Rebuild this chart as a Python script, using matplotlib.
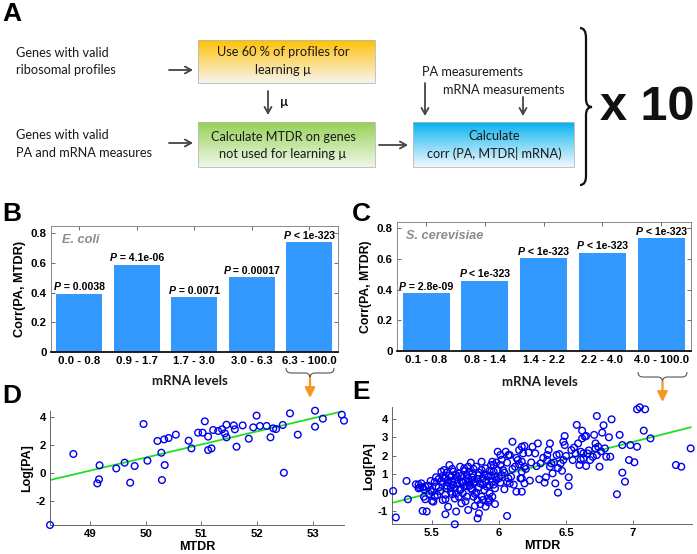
import numpy as np
import matplotlib
matplotlib.use("Agg")
import matplotlib.pyplot as plt
from matplotlib.path import Path
from matplotlib.patches import PathPatch, Rectangle
from matplotlib.offsetbox import TextArea, HPacker, AnnotationBbox

# ---------------- data ----------------
ecoli_bins = ["0.0 - 0.8", "0.9 - 1.7", "1.7 - 3.0", "3.0 - 6.3", "6.3 - 100.0"]
ecoli_corr = [0.39, 0.586, 0.368, 0.503, 0.739]
ecoli_p = [" = 0.0038", " = 4.1e-06", " = 0.0071", " = 0.00017", " < 1e-323"]

yeast_bins = ["0.1 - 0.8", "0.8 - 1.4", "1.4 - 2.2", "2.2 - 4.0", "4.0 - 100.0"]
yeast_corr = [0.376, 0.458, 0.604, 0.641, 0.735]
yeast_p = [" = 2.8e-09", " < 1e-323", " < 1e-323", " < 1e-323", " < 1e-323"]

d_mtdr = [48.28, 48.70, 49.13, 49.16, 49.17, 49.47, 49.62, 49.72, 49.80, 49.96,
          50.03, 50.21, 50.28, 50.29, 50.33, 50.34, 50.41, 50.54, 50.77, 50.82,
          50.94, 51.02, 51.06, 51.12, 51.12, 51.18, 51.21, 51.30, 51.37, 51.42,
          51.45, 51.45, 51.58, 51.60, 51.63, 51.74, 51.85, 51.93, 51.99, 52.05,
          52.17, 52.24, 52.29, 52.34, 52.46, 52.48, 52.59, 52.73, 53.04, 53.04,
          53.18, 53.52, 53.56]
d_logpa = [-3.71, 1.36, -0.74, -0.45, 0.55, 0.33, 0.74, -0.69, 0.50, 3.50,
           0.88, 2.29, 1.45, -0.50, 2.40, 0.57, 2.50, 2.74, 2.31, 1.76,
           2.88, 2.88, 3.69, 2.60, 1.64, 1.76, 3.07, 3.00, 3.12, 2.83,
           3.45, 2.55, 3.40, 3.12, 1.88, 3.40, 2.45, 3.26, 4.10, 3.36,
           3.36, 2.55, 3.19, 3.14, 3.43, 0.02, 4.26, 2.74, 4.45, 3.31,
           3.88, 4.17, 3.74]
d_fit_x = [48.28, 53.56]
d_fit_y = [-0.50, 4.43]

e_mtdr = [5.21, 5.23, 5.31, 5.32, 5.38, 5.42, 5.43, 5.45, 5.44, 5.45, 5.43, 5.46,
          5.49, 5.49, 5.50, 5.52, 5.51, 5.55, 5.57, 5.58, 5.58, 5.60, 5.60, 5.60,
          5.62, 5.63, 5.62, 5.65, 5.64, 5.65, 5.66, 5.67, 5.67, 5.67, 5.68, 5.68,
          5.70, 5.72, 5.72, 5.72, 5.73, 5.74, 5.74, 5.75, 5.76, 5.77, 5.77, 5.78,
          5.78, 5.79, 5.80, 5.80, 5.81, 5.82, 5.83, 5.84, 5.84, 5.85, 5.85, 5.86,
          5.87, 5.87, 5.88, 5.89, 5.90, 5.90, 5.91, 5.92, 5.93, 5.93, 5.94, 5.95,
          5.95, 5.96, 5.97, 5.98, 5.99, 6.01, 6.01, 6.02, 6.03, 6.04, 6.05, 6.06,
          6.06, 6.07, 6.07, 6.08, 6.09, 6.10, 6.12, 6.13, 6.14, 6.15, 6.16, 6.17,
          6.18,
          5.57, 5.59, 5.61, 5.64, 5.69, 5.71, 5.76, 5.78, 5.81, 5.82, 5.88, 5.92,
          5.95, 5.97, 5.99, 6.01, 5.71, 5.83, 5.87, 5.91, 5.54, 5.48, 5.40, 5.53,
          5.61, 5.68, 5.80, 5.85, 5.93, 5.96,
          6.19, 6.17, 6.19, 6.17, 6.17, 6.19, 6.17, 6.23, 6.22, 6.25, 6.27, 6.29,
          6.31, 6.30, 6.34, 6.36, 6.37, 6.38, 6.36, 6.38, 6.39, 6.40, 6.42, 6.43,
          6.44, 6.45, 6.46, 6.47, 6.48, 6.48, 6.49, 6.49, 6.52, 6.52, 6.54, 6.55,
          6.57, 6.58, 6.59, 6.60, 6.61, 6.62, 6.62, 6.63, 6.64, 6.65, 6.63, 6.65,
          6.66, 6.68, 6.71, 6.72, 6.72, 6.73, 6.74, 6.73, 6.75, 6.77, 6.78, 6.79,
          6.80, 6.82, 6.83, 6.84, 6.88, 6.90, 6.92, 6.92, 6.94, 6.97, 6.98, 7.01,
          7.03, 7.03, 7.05, 7.09, 7.08, 7.13, 7.32, 7.36, 7.43,
          5.40, 5.41, 5.44, 5.47, 5.50, 5.52, 5.53, 5.55, 5.56, 5.58, 5.59, 5.60,
          5.61, 5.62, 5.63, 5.64, 5.65, 5.66, 5.67, 5.69, 5.70, 5.71, 5.73, 5.74,
          5.75, 5.76, 5.77, 5.79, 5.80, 5.81, 5.82, 5.84, 5.85, 5.86, 5.88, 5.89,
          5.90, 5.92, 5.93, 5.94, 5.96, 5.97, 5.98, 6.00, 6.02, 6.04, 6.06, 6.08,
          6.10, 6.11, 6.13, 6.15, 6.20, 6.24, 6.28, 6.33, 6.35, 6.41, 6.44, 6.50,
          6.56, 6.61, 6.67, 6.70, 6.76]
e_logpa = [0.11, -1.32, 0.65, -0.34, 0.47, 0.52, 0.31, 0.34, -0.20, -0.34, -0.97, -1.00,
           0.16, 0.65, -0.43, -0.20, -0.47, 0.31, 0.65, 0.92, -0.38, -0.34, -1.15, 0.79,
           -0.74, 1.51, 0.56, 0.61, 0.07, -0.07, 1.15, 0.70, 0.25, -1.69, 0.97, -1.00,
           -0.20, 0.61, -0.56, 0.92, -0.02, 0.34, 1.33, 0.70, -0.20, -0.92, 1.42, 1.15,
           0.38, 1.64, 0.16, 0.85, 1.30, 0.61, 0.02, -1.37, -0.38, 0.97, -1.10, 0.52,
           1.24, -0.20, 0.79, 0.16, 1.33, -0.74, 0.34, 0.88, -0.02, -0.38, 1.51, 0.61,
           1.69, 1.15, 0.25, 0.70, 2.23, 1.51, 2.05, 0.97, 1.24, 0.20, 2.23, -1.24,
           1.64, 0.79, 2.05, 0.52, 0.88, 2.77, 1.42, 0.07, 1.78, 2.32, 0.79, 2.50,
           2.14,
           1.15, 1.24, 1.10, 0.88, 0.52, 0.20, 0.97, 0.61, -0.20, -0.70, -0.38, -0.29,
           -0.20, 0.88, 1.24, 0.56, 1.42, 1.42, 1.69, 0.97, -0.11, -0.05, 0.25, 0.85,
           0.25, -0.02, 0.70, 0.31, 0.43, 1.51,
           2.54, 1.69, 1.42, 1.15, 0.79, 0.52, 0.07, 0.67, 2.18, 2.50, 2.14, 2.68,
           1.60, 0.74, 0.56, 2.05, 2.32, 2.68, 1.78, 1.42, 1.60, 1.06, 0.52, 2.05,
           0.02, 2.10, 1.60, 1.20, 1.78, 2.77, 3.08, 2.59, 0.85, 0.38, 2.32, 1.78,
           2.14, 3.68, 2.68, 1.51, 2.23, 3.37, 2.95, 1.87, 3.05, 3.08, 2.14, 1.46,
           2.14, 1.78, 3.14, 2.68, 2.41, 2.05, 2.50, 4.16, 1.42, 3.26, 3.66, 2.41,
           1.96, 3.01, 1.96, 3.98, -0.07, 3.14, 2.59, 1.10, 0.61, 1.78, 2.59, 1.66,
           2.50, 4.52, 4.63, 4.52, 3.37, 2.95, 1.51, 1.42, 2.41,
           0.45, 0.30, 0.20, 0.40, 0.05, 0.60, 0.35, 0.75, 0.10, 0.55, 0.80, -0.10,
           0.40, 0.70, 0.95, 0.30, 1.30, 0.45, -0.30, 0.85, 1.05, 0.15, 0.55, 1.20,
           -0.45, 0.40, 0.80, 0.25, 1.05, 0.55, -0.05, 0.75, 1.10, -0.60, 0.45, 1.00,
           0.60, -0.50, 1.20, 0.95, 0.45, -0.60, 1.65, 0.80, 1.80, 1.10, 0.60, 2.05,
           1.30, 0.45, 1.90, 1.55, 1.30, 1.65, 1.45, 1.90, 0.85, 1.65, 1.35, 2.00,
           2.45, 1.80, 2.30, 1.95, 2.25]
e_fit_x = [5.21, 7.43]
e_fit_y = [-0.52, 3.55]

# ---------------- figure ----------------
W, H = 697, 554
fig = plt.figure(figsize=(W / 100, H / 100), dpi=100)


def px(l, t, r, b):
    return [l / W, 1 - b / H, (r - l) / W, (b - t) / H]


ARIAL = ["Liberation Sans", "DejaVu Sans"]
CAL = ["Lato", "DejaVu Sans"]
BAR = "#3399ff"


def plabel(ax, x, y, rest, size=7.6):
    t1 = TextArea("P", textprops=dict(style="italic", weight="bold", size=size, family=ARIAL))
    t2 = TextArea(rest, textprops=dict(weight="bold", size=size, family=ARIAL))
    box = HPacker(children=[t1, t2], align="baseline", pad=0, sep=0)
    ab = AnnotationBbox(box, (x, y), xybox=(0, 1.2), xycoords="data",
                        boxcoords="offset points", box_alignment=(0.5, 0),
                        frameon=False, pad=0)
    ax.add_artist(ab)


def bar_panel(rect, bins, vals, plabs, ylim_top, species, ylab_size, sx):
    ax = fig.add_axes(rect)
    x = np.arange(len(bins))
    ax.bar(x, vals, width=0.8, color=BAR, edgecolor="none", zorder=2)
    ax.set_xlim(-0.5, len(bins) - 0.5)
    ax.set_ylim(0, ylim_top)
    ax.set_xticks(x)
    ax.set_xticklabels(bins)
    ax.set_yticks([0, 0.2, 0.4, 0.6, 0.8])
    ax.set_yticklabels(["0", "0.2", "0.4", "0.6", "0.8"])
    ax.tick_params(direction="in", top=True, right=True, length=3, width=0.6,
                   color="#555555", labelsize=8.2, pad=3)
    for lab in ax.get_xticklabels() + ax.get_yticklabels():
        lab.set_fontweight("bold")
        lab.set_family(ARIAL)
    for s in ["top", "right", "left"]:
        ax.spines[s].set_color("#777777")
        ax.spines[s].set_linewidth(0.6)
    ax.spines["bottom"].set_color("#111111")
    ax.spines["bottom"].set_linewidth(1.3)
    ax.spines["bottom"].set_zorder(3)
    ax.set_ylabel("Corr(PA, MTDR)", fontsize=ylab_size, fontweight="bold",
                  family=ARIAL, labelpad=3)
    for xi, v, pl in zip(x, vals, plabs):
        plabel(ax, xi, v, pl)
    ax.text(sx, 0.89, species, transform=ax.transAxes, fontsize=9.2,
            style="italic", fontweight="bold", color="#8c8c8c", family=ARIAL,
            va="center", ha="left")
    return ax


axB = bar_panel(px(50.7, 226, 338, 352), ecoli_bins, ecoli_corr, ecoli_p, 0.849,
                "E. coli", 9.2, 0.04)
axC = bar_panel(px(396.7, 221.7, 690.5, 351), yeast_bins, yeast_corr, yeast_p, 0.843,
                "S. cerevisiae", 8.8, 0.03)


def scatter_panel(rect, xs, ys, fx, fy, xlim, ylim, xt, xtl, yt):
    ax = fig.add_axes(rect)
    ax.plot(fx, fy, color="#22dd22", lw=1.3, zorder=2)
    ax.scatter(xs, ys, s=23, facecolors="none", edgecolors="#0000ee",
               linewidths=1.0, zorder=3, clip_on=False)
    ax.set_xlim(*xlim)
    ax.set_ylim(*ylim)
    ax.set_xticks(xt)
    ax.set_xticklabels(xtl)
    ax.set_yticks(yt)
    ax.set_yticklabels([str(v) for v in yt])
    ax.tick_params(direction="in", length=3, width=0.6, color="#555555",
                   labelsize=8.2, pad=3)
    for lab in ax.get_xticklabels() + ax.get_yticklabels():
        lab.set_fontweight("bold")
        lab.set_family(ARIAL)
    ax.spines["top"].set_visible(False)
    ax.spines["right"].set_visible(False)
    for s in ["left", "bottom"]:
        ax.spines[s].set_color("#666666")
        ax.spines[s].set_linewidth(0.7)
    ax.set_xlabel("MTDR", fontsize=9.0, fontweight="bold", family=ARIAL, labelpad=1.5)
    ax.set_ylabel("Log[PA]", fontsize=9.0, fontweight="bold", family=ARIAL, labelpad=2)
    ax.patch.set_alpha(0)
    return ax


axD = scatter_panel(px(50, 410.7, 344, 525), d_mtdr, d_logpa, d_fit_x, d_fit_y,
                    (48.28, 53.56), (-3.71, 4.45), [49, 50, 51, 52, 53],
                    ["49", "50", "51", "52", "53"], [-2, 0, 2, 4])
axE = scatter_panel(px(392, 407.3, 692, 524), e_mtdr, e_logpa, e_fit_x, e_fit_y,
                    (5.2015, 7.44), (-1.676, 4.63), [5.5, 6, 6.5, 7],
                    ["5.5", "6", "6.5", "7"], [-1, 0, 1, 2, 3, 4])

# ---------------- overlay (panel A, labels, braces) ----------------
ov = fig.add_axes([0, 0, 1, 1], zorder=10)
ov.patch.set_alpha(0)
ov.axis("off")

TXT = "#1a1a1a"
ARC = "#444444"


def grad_box(l, t, r, b, top, bot):
    n = 64
    c0 = np.array(matplotlib.colors.to_rgb(top))
    c1 = np.array(matplotlib.colors.to_rgb(bot))
    f = np.linspace(0, 1, n)[:, None] ** 0.9
    img = (c0 * (1 - f) + c1 * f)[:, None, :]
    ov.imshow(img, extent=(l, r, b, t), aspect="auto", origin="upper", zorder=1,
              interpolation="bilinear")
    ov.add_patch(Rectangle((l, t), r - l, b - t, fill=False, ec="#b8b8b8", lw=0.6, zorder=2))


def arrow(x0, y0, x1, y1, color=ARC, lw=1.3):
    ov.annotate("", xy=(x1, y1), xytext=(x0, y0),
                arrowprops=dict(arrowstyle="->,head_length=0.45,head_width=0.25",
                                color=color, lw=lw, shrinkA=0, shrinkB=0))


def txt(x, y, s, ha="left", size=9.2, weight="normal", **kw):
    ov.text(x, y, s, ha=ha, va="center", fontsize=size, fontweight=weight,
            family=CAL, color=TXT, **kw)


grad_box(198, 40, 375, 83, "#ffbf00", "#f7f4ec")
grad_box(198, 122, 375, 167, "#92d050", "#eef7e6")
grad_box(413, 122, 574, 167, "#00b0f0", "#eef8fe")

MU = "\u00b5"
txt(16, 53, "Genes with valid")
txt(16, 70, "ribosomal profiles")
txt(16, 135, "Genes with valid")
txt(16, 153, "PA and mRNA measures")
txt(283, 52, "Use 60 % of profiles for", ha="center")
txt(283, 70, "learning " + MU, ha="center")
txt(283, 137, "Calculate MTDR on genes", ha="center")
txt(283, 154, "not used for learning " + MU, ha="center")
txt(494, 136, "Calculate", ha="center")
txt(494, 154, "corr (PA, MTDR| mRNA)", ha="center")
txt(422, 72, "PA measurements")
txt(443, 90, "mRNA measurements")
txt(280, 102, MU, weight="bold")

arrow(169, 70, 193, 70)
arrow(169, 143, 193, 143)
arrow(268, 91, 268, 115)
arrow(379, 145, 408, 145)
arrow(425, 83, 425, 116)
arrow(523, 97, 523, 116)

# big right brace
vb = Path([(580, 28), (586, 28), (586, 38), (586, 99), (586, 107), (592, 107),
           (586, 107), (586, 115), (586, 176), (586, 185), (580, 185)],
          [Path.MOVETO, Path.CURVE3, Path.CURVE3, Path.LINETO, Path.CURVE3, Path.CURVE3,
           Path.CURVE3, Path.CURVE3, Path.LINETO, Path.CURVE3, Path.CURVE3])
ov.add_patch(PathPatch(vb, fill=False, lw=1.6, ec="#111111"))
ov.text(600, 108, "x 10", ha="left", va="center", fontsize=35, fontweight="bold",
        family=ARIAL, color="#111111")

# panel letters
for s, x, y in [("A", 2, 14), ("B", 2, 214), ("C", 352, 214), ("D", 2, 396), ("E", 352, 392)]:
    ov.text(x, y, s, ha="left", va="center", fontsize=19, fontweight="bold",
            family=ARIAL, color="#000000")

# mRNA levels labels
txt(190, 381, "mRNA levels", ha="center", size=9.5, weight="bold")
txt(540, 382, "mRNA levels", ha="center", size=9.5, weight="bold")


def hbrace(l, r, t, m):
    c = (l + r) / 2
    pth = Path([(l, t), (l, m), (l + 5, m), (c - 5, m), (c, m), (c, m + 5),
                (c, m), (c + 5, m), (r - 5, m), (r, m), (r, t)],
               [Path.MOVETO, Path.CURVE3, Path.CURVE3, Path.LINETO, Path.CURVE3, Path.CURVE3,
                Path.CURVE3, Path.CURVE3, Path.LINETO, Path.CURVE3, Path.CURVE3])
    ov.add_patch(PathPatch(pth, fill=False, lw=0.8, ec="#555555"))
    ov.annotate("", xy=(c, m + 25), xytext=(c, m + 5),
                arrowprops=dict(arrowstyle="-|>,head_length=0.6,head_width=0.3",
                                color="#f39a1e", lw=1.6, shrinkA=0, shrinkB=0))


hbrace(286, 334, 368, 373)
hbrace(638, 687, 372, 377)

ov.set_xlim(0, W)
ov.set_ylim(H, 0)

fig.savefig("out.png", dpi=100)
